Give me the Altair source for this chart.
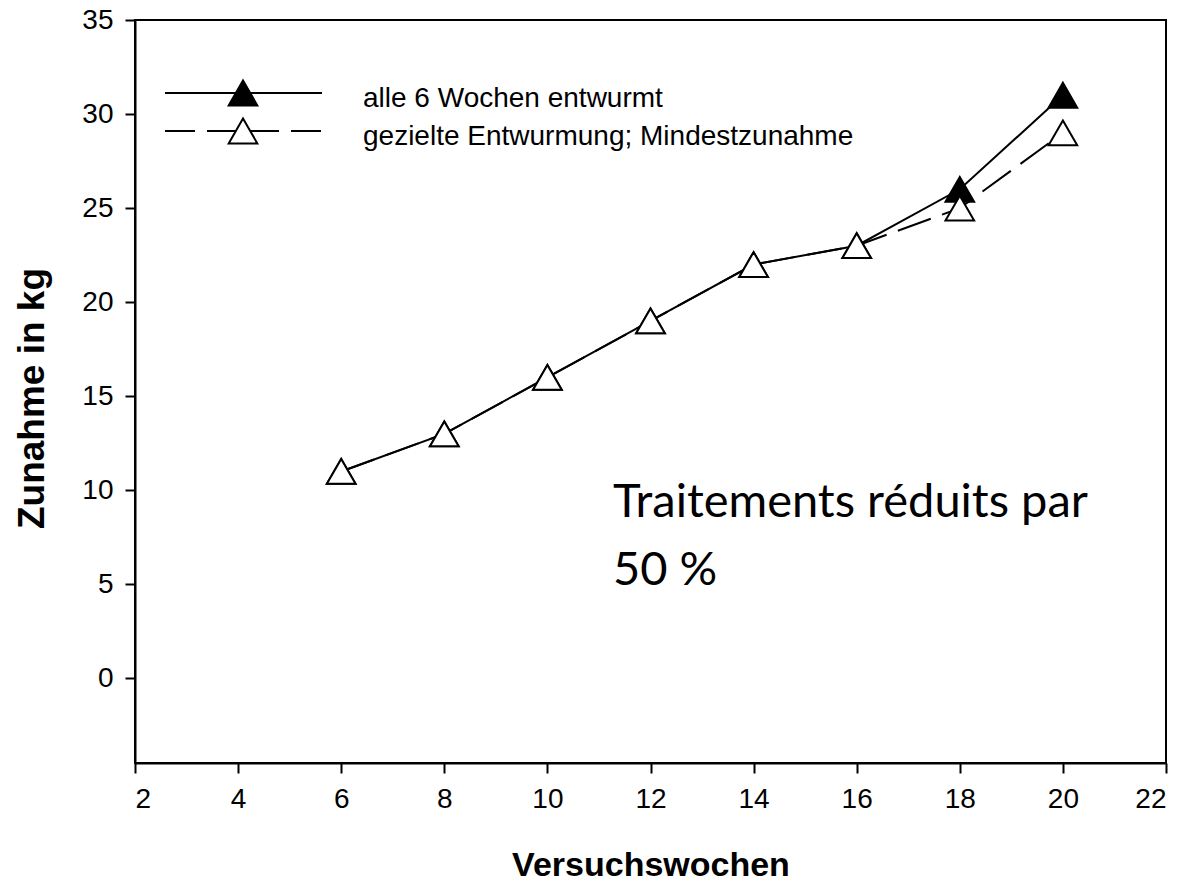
import altair as alt
import pandas as pd

weeks = [6, 8, 10, 12, 14, 16, 18, 20]
alle6 = [11, 13, 16, 19, 22, 23, 26, 31]
gezielt = [11, 13, 16, 19, 22, 23, 25, 29]
series_names = ["alle 6 Wochen entwurmt", "gezielte Entwurmung; Mindestzunahme"]
x_ticks = [2, 4, 6, 8, 10, 12, 14, 16, 18, 20, 22]
y_ticks = [0, 5, 10, 15, 20, 25, 30, 35]
annotation = ["Traitements réduits par", "50 %"]

df1 = pd.DataFrame({"w": weeks, "z": alle6})
df2 = pd.DataFrame({"w": weeks, "z": gezielt})

FONT = "Liberation Sans"
W, H = 1031, 743

xs = alt.Scale(domain=[2, 22], nice=False, zero=False)
ys = alt.Scale(domain=[-4.5, 35], nice=False, zero=False)

xenc = alt.X("w:Q", scale=xs, axis=alt.Axis(
    values=x_ticks, title="Versuchswochen", format="d",
    titleY=112, titleBaseline="alphabetic", titleFontSize=34))
yenc = alt.Y("z:Q", scale=ys, axis=alt.Axis(
    values=y_ticks, title="Zunahme in kg", format="d",
    titleX=-103, titleY=378, titleBaseline="middle", titleFontSize=37))

dash = [35, 12]

line1 = alt.Chart(df1).mark_line(color="black", strokeWidth=2).encode(x=xenc, y=yenc)
line2 = alt.Chart(df2).mark_line(color="black", strokeWidth=2, strokeDash=dash).encode(x=xenc, y=yenc)
pts1 = alt.Chart(df1).mark_point(shape="triangle-up", size=820, filled=True,
                                  fill="black", stroke="black", strokeWidth=2,
                                  opacity=1).encode(x=xenc, y=yenc)
pts2 = alt.Chart(df2).mark_point(shape="triangle-up", size=820, filled=True,
                                  fill="white", stroke="black", strokeWidth=2,
                                  opacity=1, fillOpacity=1).encode(x=xenc, y=yenc)

one = pd.DataFrame({"k": [0]})
leg_l1 = alt.Chart(one).mark_rule(color="black", strokeWidth=2).encode(
    x=alt.value(30), x2=alt.value(187), y=alt.value(73))
leg_l2 = alt.Chart(one).mark_rule(color="black", strokeWidth=2, strokeDash=[30, 12]).encode(
    x=alt.value(30), x2=alt.value(186), y=alt.value(111))
leg_p1 = alt.Chart(one).mark_point(shape="triangle-up", size=820, filled=True,
                                    fill="black", stroke="black", strokeWidth=2,
                                    opacity=1).encode(x=alt.value(108), y=alt.value(73))
leg_p2 = alt.Chart(one).mark_point(shape="triangle-up", size=820, filled=True,
                                    fill="white", stroke="black", strokeWidth=2,
                                    opacity=1).encode(x=alt.value(108), y=alt.value(111))
leg_t1 = alt.Chart(one).mark_text(align="left", baseline="alphabetic", font=FONT,
                                   fontSize=28, color="black").encode(
    x=alt.value(228), y=alt.value(87), text=alt.value(series_names[0]))
leg_t2 = alt.Chart(one).mark_text(align="left", baseline="alphabetic", font=FONT,
                                   fontSize=28, color="black").encode(
    x=alt.value(228), y=alt.value(125), text=alt.value(series_names[1]))

ann = alt.Chart(one).mark_text(align="left", baseline="alphabetic", font="Lato",
                                fontSize=47, color="black", lineHeight=68).encode(
    x=alt.value(478), y=alt.value(497), text=alt.value(annotation))

chart = alt.layer(line1, line2, pts1, pts2, leg_l1, leg_l2, leg_p1, leg_p2,
                  leg_t1, leg_t2, ann).properties(
    width=W, height=H,
    autosize=alt.AutoSizeParams(type="none"),
    padding={"left": 127, "top": 12, "right": 12, "bottom": 124},
    background="white",
).configure_view(
    stroke="black", strokeWidth=2
).configure_axis(
    grid=False, domainColor="black", domainWidth=2, tickColor="black",
    tickWidth=2, tickSize=10, labelFont=FONT, labelFontSize=28,
    labelColor="black", labelPadding=12, titleFont=FONT,
    titleFontWeight="bold", titleColor="black"
)

chart.save("out.html", embed_options={"renderer": "svg", "actions": False})
